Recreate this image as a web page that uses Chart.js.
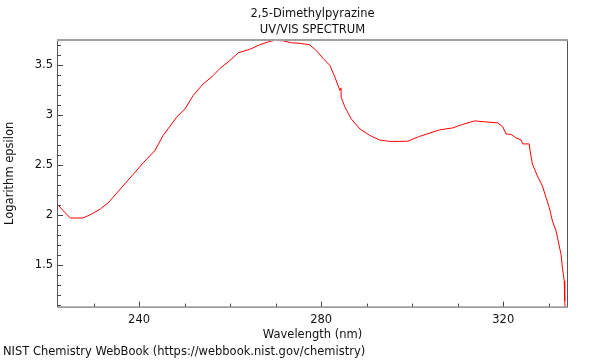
<!DOCTYPE html>
<html>
<head>
<meta charset="utf-8">
<script src="https://cdn.jsdelivr.net/npm/chart.js@4/dist/chart.umd.min.js"></script>
<style>
  html, body { margin: 0; padding: 0; background: #fff; }
  #wrap { width: 600px; height: 360px; }
</style>
</head>
<body>
<div id="wrap"><canvas id="spectre" width="600" height="360"></canvas></div>
<script>
// spectre UV/VIS (nm, log epsilon)
const wavelengths = [222.2, 223.6, 224.9, 227.7, 229.6, 231.5, 233.3, 235.9, 238.4, 240.9, 243.5, 245.3, 248.3, 250.1, 251.9, 254.1, 256.0, 257.8, 260.0, 261.8, 264.3, 266.5, 268.4, 269.8, 271.6, 273.5, 275.3, 277.5, 279.0, 280.4, 281.9, 283.0, 284.1, 284.35, 284.4, 285.2, 286.6, 288.5, 290.7, 292.8, 295.0, 297.2, 299.0, 301.6, 306.0, 308.9, 311.1, 313.7, 316.2, 318.8, 319.9, 320.6, 321.7, 322.8, 323.9, 324.3, 325.7, 325.9, 326.4, 327.5, 328.6, 329.4, 330.1, 330.8, 331.6, 332.3, 332.7, 333.0, 333.4, 333.5, 333.6];
const logEpsilon = [2.10, 2.03, 1.97, 1.97, 2.01, 2.06, 2.125, 2.26, 2.39, 2.52, 2.645, 2.795, 2.98, 3.06, 3.195, 3.31, 3.38, 3.465, 3.545, 3.62, 3.655, 3.70, 3.73, 3.745, 3.74, 3.72, 3.715, 3.70, 3.64, 3.565, 3.495, 3.38, 3.245, 3.27, 3.175, 3.08, 2.96, 2.86, 2.795, 2.75, 2.735, 2.735, 2.737, 2.785, 2.85, 2.87, 2.905, 2.94, 2.93, 2.92, 2.88, 2.81, 2.805, 2.77, 2.75, 2.71, 2.71, 2.64, 2.51, 2.39, 2.29, 2.175, 2.075, 1.94, 1.84, 1.69, 1.605, 1.47, 1.34, 1.14, 1.06];

const xTicks = [230, 240, 250, 260, 270, 280, 290, 300, 310, 320, 330];
const xLabels = [240, 280, 320];
const yTicks = [];
for (let i = 11; i <= 37; i++) yTicks.push(i / 10);

const points = wavelengths.map((w, i) => ({ x: w, y: logEpsilon[i] }));

// cadre + graduations vers l'intérieur
const cadre = {
    id: 'cadre',
    afterDraw(chart) {
        const { ctx, chartArea: a, scales } = chart;
        ctx.save();
        ctx.strokeStyle = '#444';
        ctx.lineWidth = 1;
        ctx.beginPath();
        scales.x.ticks.forEach(t => {
            const px = Math.round(scales.x.getPixelForValue(t.value)) + 0.5;
            const len = xLabels.includes(t.value) ? 5 : 3;
            ctx.moveTo(px, a.bottom);
            ctx.lineTo(px, a.bottom - len);
        });
        scales.y.ticks.forEach(t => {
            const py = Math.round(scales.y.getPixelForValue(t.value)) + 0.5;
            const major = Math.abs(t.value * 2 - Math.round(t.value * 2)) < 1e-6;
            ctx.moveTo(a.left, py);
            ctx.lineTo(a.left + (major ? 5 : 3), py);
        });
        ctx.stroke();

        ctx.beginPath();
        ctx.strokeStyle = '#555';
        ctx.moveTo(a.left - 0.5, a.top);
        ctx.lineTo(a.left - 0.5, a.bottom + 0.5);
        ctx.lineTo(a.right + 0.5, a.bottom + 0.5);
        ctx.lineTo(a.right + 0.5, a.top);
        ctx.stroke();

        ctx.beginPath();
        ctx.strokeStyle = '#a0a0a0';
        ctx.lineWidth = 2;
        ctx.moveTo(a.left - 1, a.top);
        ctx.lineTo(a.right + 1, a.top);
        ctx.stroke();
        ctx.restore();
    }
};

Chart.defaults.font.family = '"DejaVu Sans", sans-serif';
Chart.defaults.font.size = 11.5;
Chart.defaults.color = '#111';

new Chart(document.getElementById('spectre'), {
    type: 'scatter',
    data: {
        datasets: [{
            label: '2,5-Dimethylpyrazine',
            data: points,
            showLine: true,
            borderColor: '#ff0000',
            borderWidth: 1,
            pointRadius: 0,
            tension: 0
        }]
    },
    options: {
        responsive: false,
        animation: false,
        events: [],
        layout: { padding: { left: 3, right: 33, top: 0, bottom: 0 } },
        plugins: {
            legend: { display: false },
            tooltip: { enabled: false },
            title: { display: false },
            subtitle: {
                display: true,
                position: 'bottom',
                align: 'start',
                text: 'NIST Chemistry WebBook (https://webbook.nist.gov/chemistry)',
                font: { size: 11.5, lineHeight: 1.2 },
                color: '#111',
                padding: { top: 0, bottom: 1 }
            }
        },
        scales: {
            // axe du haut : sert juste a centrer le titre sur la zone du graphe
            titre: {
                type: 'linear',
                position: 'top',
                min: 222.2,
                max: 334.0,
                grid: { display: false, drawTicks: false },
                border: { display: false },
                ticks: { display: false },
                afterFit: s => { s.height = 40; },
                title: {
                    display: true,
                    text: ['2,5-Dimethylpyrazine', 'UV/VIS SPECTRUM'],
                    font: { size: 11.5, lineHeight: 1.39 },
                    color: '#111',
                    padding: { top: 6, bottom: 0 }
                }
            },
            x: {
                type: 'linear',
                min: 222.2,
                max: 334.0,
                grid: { display: false, drawTicks: false },
                border: { display: false },
                afterBuildTicks: s => { s.ticks = xTicks.map(v => ({ value: v })); },
                afterFit: s => { s.height = 38.6; },
                ticks: {
                    autoSkip: false,
                    maxRotation: 0,
                    padding: 7,
                    callback: v => xLabels.includes(v) ? String(v) : ''
                },
                title: {
                    display: true,
                    text: 'Wavelength (nm)',
                    padding: { top: 0, bottom: 3 }
                }
            },
            y: {
                type: 'linear',
                min: 1.085,
                max: 3.748,
                grid: { display: false, drawTicks: false },
                border: { display: false },
                afterBuildTicks: s => { s.ticks = yTicks.map(v => ({ value: v })); },
                afterFit: s => { s.width = 55; },
                ticks: {
                    autoSkip: false,
                    padding: 5,
                    callback: v => {
                        const k = Math.round(v * 10);
                        return k % 5 === 0 ? String(k / 10) : '';
                    }
                },
                title: {
                    display: true,
                    text: 'Logarithm epsilon',
                    padding: { top: 0, bottom: 0 }
                }
            }
        }
    },
    plugins: [cadre]
});
</script>
</body>
</html>
